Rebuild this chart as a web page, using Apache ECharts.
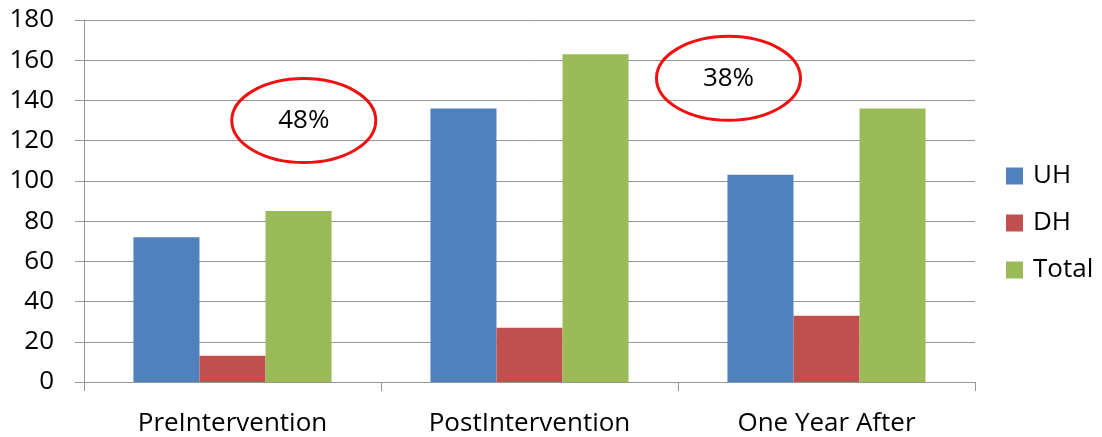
<!DOCTYPE html>
<html><head><meta charset="utf-8">
<script src="https://cdn.jsdelivr.net/npm/echarts@6/dist/echarts.min.js"></script>
<style>html,body{margin:0;padding:0;background:#fff}#c{width:1102px;height:437px}</style>
</head><body><div id="c"></div>
<script>
const categories = ['PreIntervention', 'PostIntervention', 'One Year After'];
const uhValues = [72, 136, 103];
const dhValues = [13, 27, 33];
const totalValues = [85, 163, 136];
const yTicks = [0, 20, 40, 60, 80, 100, 120, 140, 160, 180];
// annotation: label, position along category axis (index units), value
const noteLabels = ['48%', '38%'];
const noteCatPos = [0.24, 1.67];
const noteValues = [130, 151];

const FONT = '"Open Sans", Lato, sans-serif';
const FS = 26;
const chart = echarts.init(document.getElementById('c'));
const gridColor = '#969696';
chart.setOption({
  animation: false,
  color: ['#4F81BD', '#C0504D', '#9BBB59'],
  grid: {left: 84, right: 127, top: 20, bottom: 54},
  legend: {
    orient: 'vertical', left: 1006, top: 163, padding: 0,
    itemWidth: 17, itemHeight: 17, itemGap: 21,
    icon: 'rect',
    textStyle: {fontFamily: FONT, fontSize: FS, color: '#000', padding: [0, 0, 0, 5]},
    data: ['UH', 'DH', 'Total']
  },
  xAxis: {
    type: 'category', data: categories,
    axisLine: {lineStyle: {color: gridColor, width: 1}},
    axisTick: {show: true, length: 9, lineStyle: {color: gridColor}},
    axisLabel: {fontFamily: FONT, fontSize: FS, color: '#000', margin: 29}
  },
  yAxis: {
    type: 'value', min: yTicks[0], max: yTicks[yTicks.length - 1], interval: yTicks[1] - yTicks[0],
    axisLine: {show: true, lineStyle: {color: gridColor, width: 1}},
    axisTick: {show: true, length: 9, lineStyle: {color: gridColor}},
    splitLine: {lineStyle: {color: gridColor, width: 1}},
    axisLabel: {fontFamily: FONT, fontSize: FS, color: '#000', margin: 30}
  },
  series: [
    {name: 'UH', type: 'bar', data: uhValues, barGap: '0%', barCategoryGap: '33.3%'},
    {name: 'DH', type: 'bar', data: dhValues, barGap: '0%', barCategoryGap: '33.3%'},
    {name: 'Total', type: 'bar', data: totalValues, barGap: '0%', barCategoryGap: '33.3%'}
  ]
});

function placeNotes() {
  const c0 = chart.convertToPixel({xAxisIndex: 0}, categories[0]);
  const c1 = chart.convertToPixel({xAxisIndex: 0}, categories[1]);
  const step = c1 - c0;
  const elems = [];
  noteLabels.forEach((lab, i) => {
    const cx = c0 + noteCatPos[i] * step;
    const cy = chart.convertToPixel({yAxisIndex: 0}, noteValues[i]);
    elems.push({
      type: 'ellipse', shape: {cx: cx, cy: cy, rx: 72, ry: 42},
      style: {fill: 'rgba(0,0,0,0)', stroke: '#F01010', lineWidth: 3}, z: 10
    });
    elems.push({
      type: 'text', x: cx, y: cy,
      style: {text: lab, fontFamily: FONT, fontSize: FS, fill: '#000', align: 'center', verticalAlign: 'middle'}, z: 11
    });
  });
  chart.setOption({graphic: elems});
}
placeNotes();
</script></body></html>
